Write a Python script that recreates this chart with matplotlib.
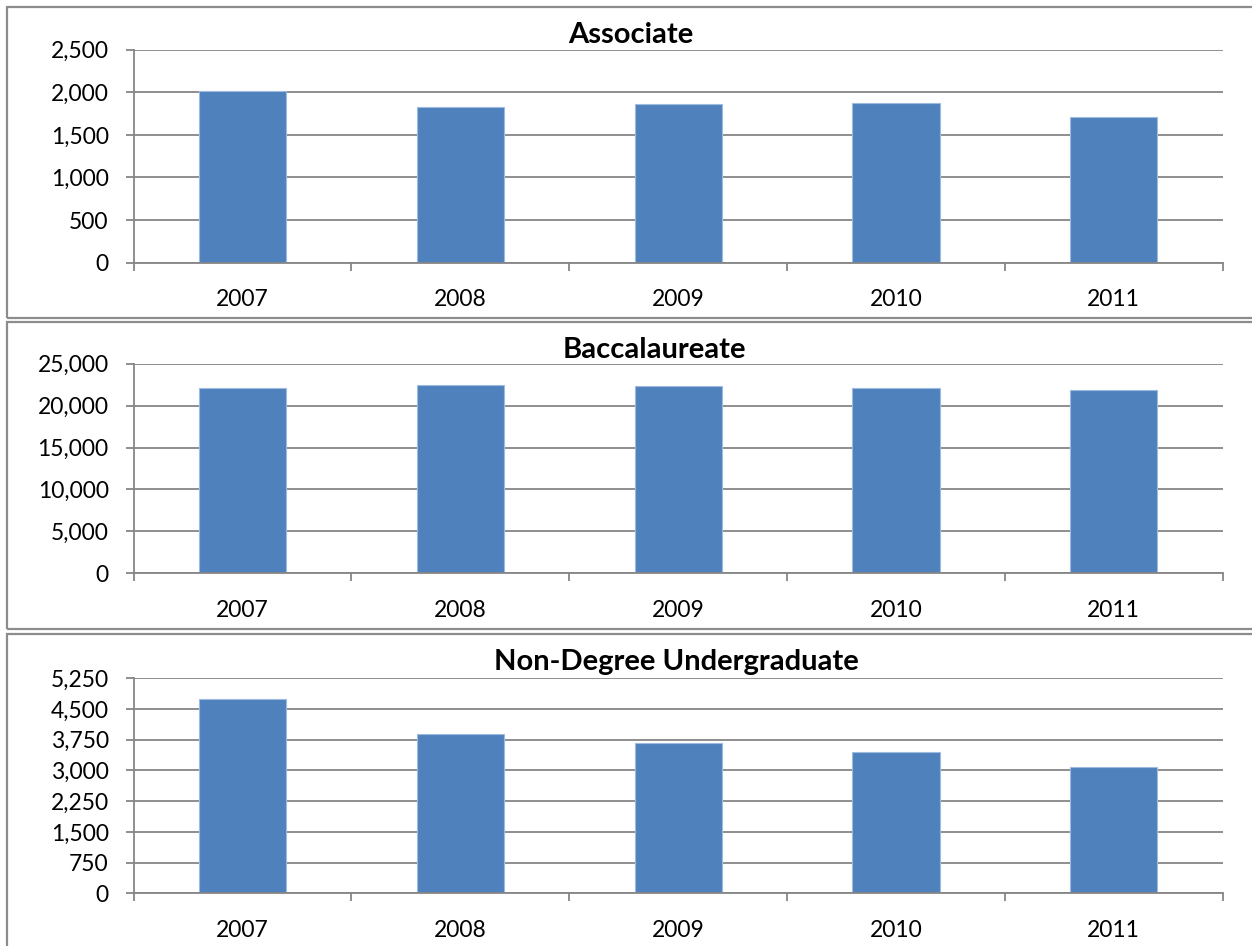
import matplotlib
matplotlib.use("Agg")
import matplotlib.pyplot as plt
from matplotlib.patches import Rectangle
from matplotlib.ticker import FuncFormatter

years = ["2007", "2008", "2009", "2010", "2011"]

associate = [2010, 1831, 1866, 1874, 1714]
baccalaureate = [22130, 22450, 22290, 22090, 21820]
non_degree = [4754, 3897, 3663, 3459, 3077]

titles = ["Associate", "Baccalaureate", "Non-Degree Undergraduate"]
y_ticks = [
    [0, 500, 1000, 1500, 2000, 2500],
    [0, 5000, 10000, 15000, 20000, 25000],
    [0, 750, 1500, 2250, 3000, 3750, 4500, 5250],
]
series = [associate, baccalaureate, non_degree]

W, H = 1252, 946
plt.rcParams['font.family'] = ['Lato', 'DejaVu Sans']

fig = plt.figure(figsize=(W / 100, H / 100), dpi=100)

bar_color = '#4F81BD'
grid_color = '#868686'
border_color = '#8c8c8c'

# panel boxes (pixel coordinates: left, top, right, bottom)
boxes = [(7, 7, 1262, 318), (7, 322.5, 1262, 629), (7, 634, 1262, 956)]
# axes (left, top, right, bottom) in pixels
axes_px = [(133.7, 49.7, 1222.7, 262.7),
           (133.7, 363.7, 1222.7, 573.3),
           (133.7, 678.3, 1222.7, 893.3)]
title_pos = [(630.5, 43.3), (654, 358.3), (676.5, 670)]

for (l, t, r, b) in boxes:
    fig.patches.append(Rectangle((l / W, 1 - b / H), (r - l) / W, (b - t) / H,
                                 transform=fig.transFigure, fill=False,
                                 edgecolor=border_color, linewidth=1.6))

fmt = FuncFormatter(lambda v, p: f"{int(v):,}")

for i in range(3):
    l, t, r, b = axes_px[i]
    ax = fig.add_axes([l / W, 1 - b / H, (r - l) / W, (b - t) / H])
    xs = range(len(years))
    ax.bar(xs, series[i], width=0.4, color=bar_color, edgecolor='#9dbbe0',
           linewidth=0.8, zorder=3)
    ax.set_xlim(-0.5, len(years) - 0.5)
    ax.set_ylim(y_ticks[i][0], y_ticks[i][-1])
    ax.set_yticks(y_ticks[i])
    ax.yaxis.set_major_formatter(fmt)
    ax.set_xticks(list(xs))
    ax.set_xticklabels(years)
    ax.set_xticks([k - 0.5 for k in range(len(years) + 1)], minor=True)
    ax.tick_params(axis='x', which='major', length=0, pad=19, labelsize=16.5)
    ax.tick_params(axis='x', which='minor', length=6, width=1.3,
                   color=grid_color, direction='out')
    ax.tick_params(axis='y', length=6, width=1.3, color=grid_color,
                   pad=12, labelsize=16.5)
    ax.yaxis.grid(True, color=grid_color, linewidth=1.3, zorder=0)
    ax.set_axisbelow(True)
    for s in ['top', 'right']:
        ax.spines[s].set_visible(False)
    for s in ['left', 'bottom']:
        ax.spines[s].set_color(grid_color)
        ax.spines[s].set_linewidth(1.3)
    ax.spines['bottom'].set_zorder(4)
    tx, ty = title_pos[i]
    fig.text(tx / W, 1 - ty / H, titles[i], ha='center', va='baseline',
             fontsize=21, fontweight='bold')

fig.savefig("out.png", dpi=100)
